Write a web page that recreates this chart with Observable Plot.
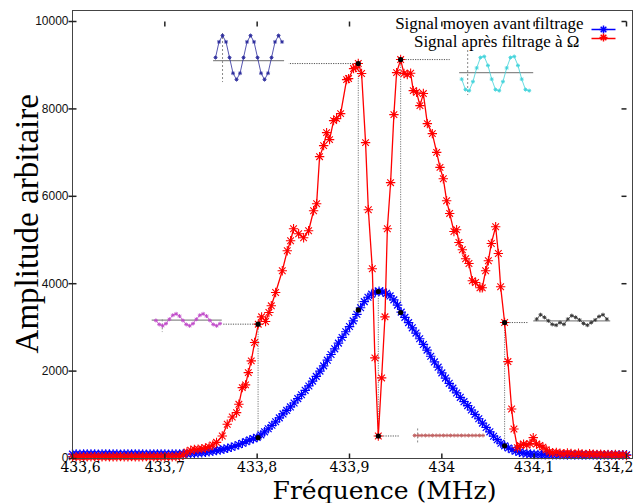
<!DOCTYPE html>
<html>
<head>
<meta charset="utf-8">
<script src="https://cdn.jsdelivr.net/npm/d3@7"></script>
<script src="https://cdn.jsdelivr.net/npm/@observablehq/plot@0.6"></script>
<style>
  html, body { margin: 0; padding: 0; background: #fff; }
  #chart svg { display: block; }
</style>
</head>
<body>
<div id="chart"></div>
<script>
// ---------- data ----------
const xTicks = [433.6, 433.7, 433.8, 433.9, 434.0, 434.1, 434.2];
const yTicks = [0, 2000, 4000, 6000, 8000, 10000];

// blue: mean signal before filtering, sampled every 0.004 MHz from 433.6
const blueStart = 433.6;
const blueStep = 0.004;
const blueAmp = [
  100,102,98,101,99,103,100,97,101,100, 99,102,100,98,101,100,103,99,100,101,
  98,100,102,99,101,100,98,102,100,103,
  105,110,115,120,128,135,145,155,168,182,
  198,215,235,258,285,315,348,385,425,455,
  480,540,610,680,760,840,930,1020,1100,1180,
  1270,1370,1460,1560,1660,1770,1880,2000,2120,2250,
  2380,2510,2640,2770,2900,3020,3150,3300,3450,3590,
  3690,3760,3810,3825,3815,3780,3720,3630,3510,3350,
  3230,3110,2990,2870,2740,2610,2480,2340,2210,2090,
  1960,1840,1720,1610,1500,1400,1300,1210,1110,1010,
  910,810,710,610,510,430,350,290,240,200,
  170,145,125,110,100,
  95,92,90,88,90,87,85,88,86,84, 85,83,86,84,82,85,83,84,82,85,
  83,82,84,83,82,84
];

// red: signal after filtering at Omega
const redFreq = [
  433.600,433.604,433.608,433.612,433.616,433.620,433.624,433.628,433.632,433.636,
  433.640,433.644,433.648,433.652,433.656,433.660,433.664,433.668,433.672,433.676,
  433.680,433.684,433.688,433.692,433.696,433.700,433.704,433.708,433.712,433.716,
  433.720,433.724,433.728,433.732,433.736,433.740,433.744,433.748,433.752,433.756,
  433.7622,433.7676,433.773,433.7777,433.7802,433.7839,433.7874,433.7904,433.7936,433.7972,
  433.8012,433.8048,433.8091,433.8127,433.8153,433.820,433.8272,433.8326,433.8362,433.8394,
  433.8449,433.8503,433.8557,433.8611,433.8644,433.8676,433.872,433.8752,433.8784,433.8828,
  433.886,433.8904,433.8969,433.899,433.9044,433.9066,433.9095,433.9131,433.9174,433.9204,
  433.9247,433.9275,433.9312,433.9348,433.9384,433.941,433.9445,433.9481,433.951,433.9554,
  433.959,433.9626,433.9662,433.9691,433.9727,433.9763,433.980,433.9843,433.9897,433.9944,
  433.998,434.0016,434.0052,434.0085,434.0131,434.016,434.0185,434.0222,434.0258,434.0294,
  434.033,434.0366,434.0413,434.0438,434.0474,434.0504,434.0536,434.0583,434.0612,434.0637,
  434.068,434.0716,434.0756,434.0781,434.0818,434.085,434.0885,434.092,434.0955,434.099,
  434.1025,434.106,434.1095,434.113,434.1165,434.120,434.124,434.128,434.132,434.136,
  434.140,434.144,434.148,434.152,434.156,434.160,434.164,434.168,434.172,434.176,
  434.180,434.184,434.188,434.192,434.196,434.200
];
const redAmp = [
  40,38,42,36,41,39,43,37,40,42, 38,41,39,44,37,40,42,38,41,39,
  43,40,38,42,39,41,44,40,45,50,
  80,150,190,205,215,225,240,265,310,370,
  515,783,950,1050,1240,1622,1684,1966,2234,2653,
  3074,3242,3134,3340,3494,3798,4296,4754,4983,5258,
  5143,5052,5212,5670,5830,6907,7159,7457,7297,7732,
  7778,7892,8671,8694,8923,8946,9038,8809,7228,5693,
  4341,2302,515,1844,3242,5258,6312,7869,8831,9129,
  8809,8786,8816,8419,8380,8075,8351,7663,7434,7006,
  6662,6403,5899,5608,5196,5235,4944,4777,4570,4463,
  4066,4027,3906,3906,4296,4525,4921,5304,4692,3929,
  3111,2218,1134,676,247,300,330,310,340,477,
  330,300,260,200,150,130,140,120,110,125,
  115,100,120,105,95,110,100,90,100,85,
  95,80,90,75,85,70
];

// marked points (black dots) and their dotted guides
const guideFreq = [433.801, 433.9095, 433.9312, 433.9554, 434.068];
const guideRed  = [3074, 9038, 515, 9129, 3111];
const guideBlue = [477, 3400, 3822, 3341, 290];
const guideEnd  = [433.7622, 433.834, 433.9543, 434.0085, 434.094];

// small waveform thumbnails (normalised samples)
const insetNavy = [0,0.71,1,0.71,0,-0.71,-1,-0.71,0,0.71,1,0.71,0,-0.71,-1,-0.71,0,0.71,1,0.71];
const insetCyan = [-0.31,-0.89,-0.95,-0.45,0.31,0.89,0.95,0.45,-0.31,-0.89,-0.95,-0.45,0.31,0.89,0.95,0.45,-0.31,-0.89,-0.95];
const insetMagenta = [-0.1,-0.77,-1,-0.63,0.1,0.77,1,0.63,-0.1,-0.77,-1,-0.63,0.1,0.77,1,0.63,-0.1,-0.77,-1,-0.63];
const insetBlack = [0.33,1.17,0.67,0,-0.67,-0.83,-0.33,-0.67,0.33,1.0,0.67,0.17,-0.5,-0.83,-0.33,0.17,0.83,1.17,0.33];
const insetFlat = [0,0,0,0,0,0,0,0,0,0,0,0,0,0,0,0,0,0,0,0];

const legendLabels = ["Signal moyen avant filtrage", "Signal après filtrage à \u03A9"];
const yTitle = "Amplitude arbitaire";
const xTitle = "Fréquence (MHz)";

// ---------- build tables ----------
const blue = blueAmp.map((v, i) => ({f: blueStart + i * blueStep, v}));
const red = redFreq.map((f, i) => ({f, v: redAmp[i]}));
const guides = guideFreq.map((f, i) => ({f, red: guideRed[i], blue: guideBlue[i], end: guideEnd[i]}));

// inset placement (in chart units)
const insetSpecs = [
  {values: insetNavy, f0: 433.7549, df: 0.003792, v0: 9175, dv: 504, color: "#2a2a9c",
   axis: [433.7528, 433.8297, 9107], dash: [433.7625, 9725, 8603]},
  {values: insetCyan, f0: 434.0215, df: 0.004063, v0: 8809, dv: 412, color: "#3fd3da",
   axis: [434.0193, 434.0995, 8832], dash: [434.0280, 9336, 8305]},
  {values: insetMagenta, f0: 433.6903, df: 0.003657, v0: 3173, dv: 137, color: "#c04ac8",
   axis: [433.6863, 433.7622, 3166], dash: [433.6972, 3173, 2882]},
  {values: insetBlack, f0: 434.1027, df: 0.004225, v0: 3150, dv: 120, color: "#333333",
   axis: [434.0995, 434.1829, 3150], dash: null},
  {values: insetFlat, f0: 433.9705, df: 0.0039, v0: 527, dv: 0, color: "#c06060",
   axis: null, dash: [433.9738, 676, 355]}
];
const insetPts = [];
const insetAxes = [];
const insetDash = [];
insetSpecs.forEach((s, k) => {
  s.values.forEach((n, i) => insetPts.push({k, f: s.f0 + i * s.df, v: s.v0 + n * s.dv, color: s.color}));
  if (s.axis) insetAxes.push({f1: s.axis[0], f2: s.axis[1], v: s.axis[2]});
  if (s.dash) insetDash.push({f: s.dash[0], v1: s.dash[1], v2: s.dash[2]});
});

// ---------- symbols ----------
const star8 = {draw(ctx, size) {
  const r = Math.sqrt(size / Math.PI), d = r * Math.SQRT1_2;
  ctx.moveTo(-r, 0); ctx.lineTo(r, 0);
  ctx.moveTo(0, -r); ctx.lineTo(0, r);
  ctx.moveTo(-d, -d); ctx.lineTo(d, d);
  ctx.moveTo(-d, d); ctx.lineTo(d, -d);
}};
const tickH = {draw(ctx) { ctx.moveTo(-4, 0); ctx.lineTo(4, 0); }};
const tickUp = {draw(ctx) { ctx.moveTo(0, 0); ctx.lineTo(0, -5); }};
const tickDown = {draw(ctx) { ctx.moveTo(0, 0); ctx.lineTo(0, 5); }};
const tickLeft = {draw(ctx) { ctx.moveTo(0, 0); ctx.lineTo(-5, 0); }};
const legLine = {draw(ctx) { ctx.moveTo(-12, 0); ctx.lineTo(12, 0); }};

const fmt = d => d3.format(".1f")(d).replace(".0", "").replace(".", ",");
const serif = "'Liberation Serif', 'Times New Roman', serif";
const serifWide = "'DejaVu Serif', serif";
const sans = "'Liberation Sans', Arial, sans-serif";

const chart = Plot.plot({
  width: 636,
  height: 503,
  marginLeft: 72,
  marginRight: 4,
  marginTop: 10,
  marginBottom: 45,
  x: {domain: [433.6, 434.2065], axis: null},
  y: {domain: [0, 10252], axis: null},
  style: {background: "#fff", overflow: "visible"},
  marks: [
    // insets
    Plot.ruleY(insetAxes, {x1: "f1", x2: "f2", y: "v", stroke: "#8a8a8a", strokeWidth: 1.2}),
    Plot.ruleX(insetDash, {x: "f", y1: "v1", y2: "v2", stroke: "#888", strokeDasharray: "2,2"}),
    Plot.line(insetPts, {x: "f", y: "v", z: "k", stroke: "color", strokeWidth: 1, strokeOpacity: 0.8}),
    Plot.dot(insetPts, {x: "f", y: "v", stroke: "color", symbol: star8, r: 2, strokeWidth: 0.9}),
    // guides
    Plot.link(guides, {x1: "f", y1: "red", x2: "f", y2: "blue", stroke: "#7a7a7a", strokeDasharray: "1.2,1.2"}),
    Plot.link(guides, {x1: "f", y1: "red", x2: "end", y2: "red", stroke: "#555", strokeDasharray: "1.2,1.2"}),
    // blue series
    Plot.line(blue, {x: "f", y: "v", stroke: "#0000ff", strokeWidth: 1.2}),
    Plot.dot(blue, {x: "f", y: "v", stroke: "#0000ff", symbol: star8, r: 4.8, strokeWidth: 1.2}),
    // red series
    Plot.line(red, {x: "f", y: "v", stroke: "#ff0000", strokeWidth: 1.3}),
    Plot.dot(red, {x: "f", y: "v", stroke: "#ff0000", symbol: star8, r: 4.7, strokeWidth: 1.1}),
    // black marked points
    Plot.dot(guides, {x: "f", y: "red", fill: "#000", r: 2.6}),
    Plot.dot(guides, {x: "f", y: "blue", fill: "#000", r: 2.6}),
    // frame & ticks
    Plot.frame({stroke: "#444", strokeWidth: 1}),
    Plot.dot(yTicks, {x: 433.6, y: d => d, symbol: tickH, stroke: "#222", r: 1}),
    Plot.dot(yTicks.slice(1), {x: 434.2, y: d => d, symbol: tickLeft, stroke: "#222", r: 1}),
    Plot.dot(xTicks, {x: d => d, y: 0, symbol: tickUp, stroke: "#222", r: 1}),
    Plot.dot(xTicks.slice(1), {x: d => d, y: 10000, symbol: tickDown, stroke: "#222", r: 1}),
    // tick labels
    Plot.text(yTicks, {y: d => d, frameAnchor: "left", textAnchor: "end", lineAnchor: "middle", dx: -4,
      text: d => String(d), fontSize: 12, fontFamily: sans, fill: "#111"}),
    Plot.text(xTicks.slice(1, -1), {x: d => d, frameAnchor: "bottom", lineAnchor: "middle", dy: 9, text: fmt,
      fontSize: 14, fontFamily: serifWide, fill: "#000"}),
    Plot.text([xTicks[0]], {x: d => d, frameAnchor: "bottom", lineAnchor: "middle", dy: 9, dx: 8, text: fmt,
      fontSize: 14, fontFamily: serifWide, fill: "#000"}),
    Plot.text([xTicks[xTicks.length - 1]], {x: d => d, frameAnchor: "bottom", lineAnchor: "middle", dy: 9, dx: -13,
      text: fmt, fontSize: 14, fontFamily: serifWide, fill: "#000"}),
    // axis titles
    Plot.text([yTitle], {x: () => 433.6, y: () => 5372, dx: -45, rotate: -90,
      textAnchor: "middle", lineAnchor: "middle", fontSize: 33, fontFamily: serif, fill: "#000"}),
    Plot.text([xTitle], {frameAnchor: "bottom", textAnchor: "middle", lineAnchor: "middle", dx: 32, dy: 32,
      fontSize: 25, fontFamily: serifWide, fill: "#000"}),
    // legend
    Plot.text([legendLabels[0]], {frameAnchor: "top-right", textAnchor: "end", lineAnchor: "middle", dx: -49, dy: 13,
      fontSize: 17, fontFamily: serif, fill: "#000"}),
    Plot.text([legendLabels[1]], {frameAnchor: "top-right", textAnchor: "end", lineAnchor: "middle", dx: -53, dy: 31,
      fontSize: 17, fontFamily: serif, fill: "#000"}),
    Plot.dot([0], {frameAnchor: "top-right", dx: -29, dy: 19, symbol: legLine, stroke: "#0000ff", r: 1}),
    Plot.dot([0], {frameAnchor: "top-right", dx: -29, dy: 19, symbol: star8, stroke: "#0000ff", r: 4}),
    Plot.dot([0], {frameAnchor: "top-right", dx: -29, dy: 28, symbol: legLine, stroke: "#ff0000", r: 1}),
    Plot.dot([0], {frameAnchor: "top-right", dx: -29, dy: 27, symbol: star8, stroke: "#ff0000", r: 4})
  ]
});
document.getElementById("chart").appendChild(chart);
</script>
</body>
</html>
